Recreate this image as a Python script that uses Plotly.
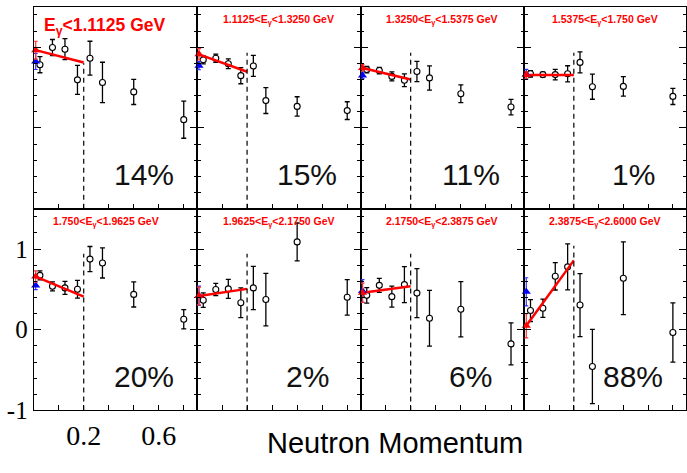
import plotly.graph_objects as go

# ---------------- data ----------------
p_bins = [0.025, 0.075, 0.125, 0.175, 0.225, 0.275, 0.4, 0.6]

vals_p1 = [0.783, 0.995, 0.975, 0.595, 0.863, 0.563, 0.446, 0.102]
errs_p1 = [0.10, 0.10, 0.13, 0.18, 0.21, 0.25, 0.156, 0.23]
vals_p2 = [0.843, 0.863, 0.795, 0.647, 0.767, 0.338, 0.266, 0.214]
errs_p2 = [0.05, 0.05, 0.06, 0.10, 0.13, 0.16, 0.12, 0.11]
vals_p3 = [0.722, 0.710, 0.638, 0.590, 0.698, 0.619, 0.422, 0.258]
errs_p3 = [0.04, 0.04, 0.056, 0.08, 0.126, 0.15, 0.11, 0.096]
vals_p4 = [0.670, 0.660, 0.660, 0.670, 0.811, 0.510, 0.514, 0.390]
errs_p4 = [0.04, 0.03, 0.064, 0.10, 0.13, 0.155, 0.12, 0.10]
vals_p5 = [0.674, 0.538, 0.518, 0.502, 0.875, 0.827, 0.438, 0.130]
errs_p5 = [0.056, 0.056, 0.08, 0.11, 0.156, 0.186, 0.156, 0.12]
vals_p6 = [0.366, 0.499, 0.506, 0.334, 0.518, 0.374, 1.088, 0.402]
errs_p6 = [0.09, 0.076, 0.118, 0.184, 0.268, 0.325, 0.234, 0.22]
vals_p7 = [0.426, 0.550, 0.410, 0.559, 0.454, 0.142, 0.254, -0.175]
errs_p7 = [0.096, 0.086, 0.13, 0.224, 0.304, 0.345, 0.342, 0.26]
vals_p8 = [0.238, 0.266, 0.662, 0.779, 0.306, -0.455, 0.638, -0.035]
errs_p8 = [0.136, 0.114, 0.17, 0.284, 0.39, 0.46, 0.45, 0.367]

red_x = 0.008
red_y = [0.963, 0.911, 0.743, 0.655, 0.659, 0.418, 0.458, 0.05]
red_err = [0.11, 0.07, 0.04, 0.04, 0.07, 0.11, 0.12, 0.15]
blue_y = [0.823, 0.770, 0.650, 0.665, 0.547, 0.420, 0.480, 0.470]
blue_err = [0.10, 0.05, 0.04, 0.06, 0.05, 0.12, 0.14, 0.174]

fit_x = [0.008, 0.2]
fit_start = red_y
fit_end = [0.811, 0.695, 0.600, 0.655, 0.410, 0.506, 0.538, 0.859]

cut_p = 0.2
cut_top = [0.80, 0.93, 0.93, 0.93, 0.94, 0.94, 0.94, 1.04]

titles = [
    "E<sub>γ</sub>&lt;1.1125 GeV",
    "1.1125&lt;E<sub>γ</sub>&lt;1.3250 GeV",
    "1.3250&lt;E<sub>γ</sub>&lt;1.5375 GeV",
    "1.5375&lt;E<sub>γ</sub>&lt;1.750 GeV",
    "1.750&lt;E<sub>γ</sub>&lt;1.9625 GeV",
    "1.9625&lt;E<sub>γ</sub>&lt;2.1750 GeV",
    "2.1750&lt;E<sub>γ</sub>&lt;2.3875 GeV",
    "2.3875&lt;E<sub>γ</sub>&lt;2.6000 GeV",
]
percents = ["14%", "15%", "11%", "1%", "20%", "2%", "6%", "88%"]

x_tickvals = [0.2, 0.5]
x_ticktext = ["0.2", "0.6"]
y_tickvals = [-1, 0, 1]
y_ticktext = ["-1", "0", "1"]

vals = [vals_p1, vals_p2, vals_p3, vals_p4, vals_p5, vals_p6, vals_p7, vals_p8]
errs = [errs_p1, errs_p2, errs_p3, errs_p4, errs_p5, errs_p6, errs_p7, errs_p8]

# ---------------- layout geometry ----------------
W, H = 687, 473
col_px = [(33.7, 197.0), (197.0, 360.5), (360.5, 524.3), (524.3, 686.0)]
row_px = [(7.0, 215.0), (215.0, 423.0)]
XR = [0, 0.653]
YR = [-1, 1.5]

fig = go.Figure()
layout = dict(
    width=W, height=H, margin=dict(l=0, r=0, t=0, b=0),
    paper_bgcolor="white", plot_bgcolor="white", showlegend=False,
)
annotations = []
shapes = []

for i in range(8):
    r, c = divmod(i, 4)
    n = i + 1
    xa = "x" if n == 1 else f"x{n}"
    ya = "y" if n == 1 else f"y{n}"
    xkey = "xaxis" if n == 1 else f"xaxis{n}"
    ykey = "yaxis" if n == 1 else f"yaxis{n}"
    x0, x1 = col_px[c]
    y0, y1 = row_px[r]
    show_lab = (i == 4)
    layout[xkey] = dict(
        domain=[x0 / W, x1 / W], range=XR, anchor=ya,
        showgrid=False, zeroline=False, showline=True, mirror=True,
        linecolor="black", linewidth=1,
        ticks="inside", ticklen=5, tickwidth=1, tickcolor="black",
        tickmode="array", tickvals=x_tickvals, ticktext=x_ticktext,
        showticklabels=show_lab,
        tickfont=dict(family="Liberation Serif", size=28, color="black"),
        minor=dict(dtick=0.1, tick0=0, ticks="inside", ticklen=5,
                   tickwidth=1, tickcolor="black"),
    )
    layout[ykey] = dict(
        domain=[(H - y1) / H, (H - y0) / H], range=YR, anchor=xa,
        showgrid=False, zeroline=False, showline=True, mirror="ticks",
        linecolor="black", linewidth=1,
        ticks="inside", ticklen=7, tickwidth=1, tickcolor="black",
        tickmode="array", tickvals=y_tickvals, ticktext=y_ticktext,
        showticklabels=show_lab,
        tickfont=dict(family="Liberation Serif", size=25, color="black"),
        minor=dict(dtick=0.2, tick0=0, ticks="inside", ticklen=3.5,
                   tickwidth=1, tickcolor="black"),
    )

    # dashed cut line
    shapes.append(dict(type="line", xref=xa, yref=ya, x0=cut_p, x1=cut_p,
                       y0=YR[0], y1=cut_top[i],
                       line=dict(color="black", width=1.2, dash="5px,4px")))

    # data points
    fig.add_trace(go.Scatter(
        x=p_bins, y=vals[i], xaxis=xa, yaxis=ya, mode="markers",
        marker=dict(symbol="circle", size=6, color="white",
                    line=dict(color="black", width=1.1)),
        error_y=dict(type="data", array=errs[i], color="black",
                     thickness=1.3, width=2.5),
    ))
    # fit line
    fig.add_trace(go.Scatter(
        x=fit_x, y=[fit_start[i], fit_end[i]], xaxis=xa, yaxis=ya,
        mode="lines", line=dict(color="#ff0000", width=2.5),
    ))
    # blue triangle
    fig.add_trace(go.Scatter(
        x=[red_x], y=[blue_y[i]], xaxis=xa, yaxis=ya, mode="markers",
        cliponaxis=False,
        marker=dict(symbol="triangle-up", size=8, color="#0000ff"),
        error_y=dict(type="data", array=[blue_err[i]], color="#3030ff",
                     thickness=1.2, width=2),
    ))
    # red triangle
    fig.add_trace(go.Scatter(
        x=[red_x], y=[red_y[i]], xaxis=xa, yaxis=ya, mode="markers",
        cliponaxis=False,
        marker=dict(symbol="triangle-up", size=8, color="#ff0000"),
        error_y=dict(type="data", array=[red_err[i]], color="#ff3030",
                     thickness=1.2, width=2),
    ))

    # panel title
    if i == 0:
        tx, tsize = (104.5 - x0) / (x1 - x0), 17.5
    elif i == 4:
        tx, tsize = (106.0 - x0) / (x1 - x0), 10.5
    else:
        tx, tsize = 0.5, 10.5
    ty_px = 20.5 if i == 0 else 13.8
    annotations.append(dict(
        text=f"<b>{titles[i]}</b>", xref=f"{xa} domain", yref=f"{ya} domain",
        x=tx, y=1 - ty_px / (y1 - y0), xanchor="center", yanchor="middle",
        showarrow=False,
        font=dict(family="Liberation Sans", size=tsize, color="#ff0000"),
    ))
    # percentage label
    annotations.append(dict(
        text=percents[i], xref=xa, yref=ya, x=0.44, y=-0.58,
        xanchor="center", yanchor="middle", showarrow=False,
        font=dict(family="Liberation Sans", size=30, color="#111111"),
    ))

annotations.append(dict(
    text="Neutron Momentum", xref="paper", yref="paper",
    x=395 / W, y=1 - 457 / H, xanchor="center", yanchor="middle",
    showarrow=False,
    font=dict(family="Liberation Sans", size=29, color="black"),
))

layout["annotations"] = annotations
layout["shapes"] = shapes
fig.update_layout(**layout)
fig.write_html("out.html")
